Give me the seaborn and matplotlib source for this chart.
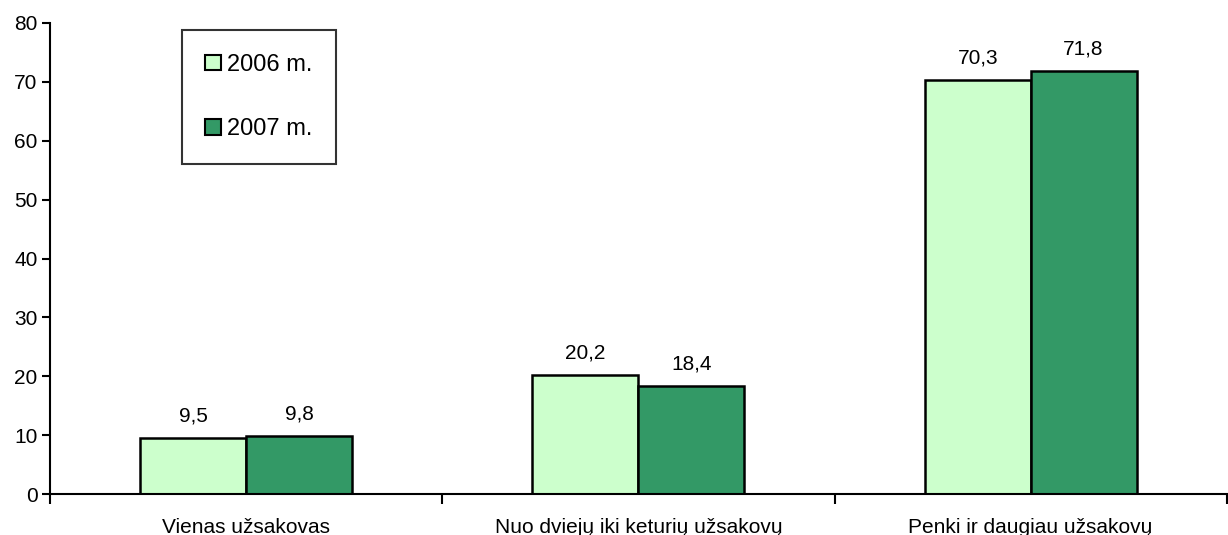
import pandas as pd
import matplotlib.pyplot as plt
import seaborn as sns
from matplotlib.ticker import FixedLocator, NullFormatter

# duomenys
categories = ["Vienas užsakovas", "Nuo dviejų iki keturių užsakovų", "Penki ir daugiau užsakovų"]
years = ["2006 m.", "2007 m."]
values_2006 = [9.5, 20.2, 70.3]
values_2007 = [9.8, 18.4, 71.8]

df = pd.DataFrame({
    "kategorija": categories * 2,
    "metai": [years[0]] * 3 + [years[1]] * 3,
    "reiksme": values_2006 + values_2007,
})

sns.set_theme(style="white")
plt.rcParams['font.family'] = ['Liberation Sans', 'DejaVu Sans']
plt.rcParams['text.color'] = 'black'
plt.rcParams['xtick.color'] = 'black'
plt.rcParams['ytick.color'] = 'black'

fig = plt.figure(figsize=(12.28, 5.35), dpi=100)
ax = fig.add_axes([50 / 1228, 1 - 494 / 535, 1 - 50 / 1228 - 0.001, (494 - 23) / 535])

sns.barplot(data=df, x="kategorija", y="reiksme", hue="metai",
            palette=["#CCFFCC", "#339966"], width=0.54, gap=0,
            edgecolor="black", linewidth=1.8, saturation=1, ax=ax)

for cont in ax.containers:
    ax.bar_label(cont, labels=[f"{v:.1f}".replace(".", ",") for v in cont.datavalues],
                 padding=9, fontsize=15, color="black")

ax.set_ylim(0, 80)
ax.set_yticks(range(0, 81, 10))
ax.set_xlim(-0.5, 2.5)
ax.set_xlabel("")
ax.set_ylabel("")

# žymos tarp kategorijų
ax.xaxis.set_minor_locator(FixedLocator([-0.5, 0.5, 1.5, 2.5]))
ax.xaxis.set_minor_formatter(NullFormatter())
ax.tick_params(axis="x", which="major", length=0, labelsize=15, pad=17)
ax.tick_params(axis="x", which="minor", length=7, width=1.5, color="black", direction="out", bottom=True)
ax.tick_params(axis="y", length=6, width=1.5, color="black", direction="out", left=True, labelsize=15, pad=3)

for s in ["top", "right"]:
    ax.spines[s].set_visible(False)
for s in ["left", "bottom"]:
    ax.spines[s].set_color("black")
    ax.spines[s].set_linewidth(1.5)

leg = ax.legend(loc="upper left", bbox_to_anchor=(0.112, 0.985), frameon=True, fancybox=False,
                edgecolor="black", fontsize=17, handlelength=0.65, handleheight=0.65,
                handletextpad=0.25, labelspacing=1.8, borderpad=1.0, borderaxespad=0)
leg.get_frame().set_linewidth(1.5)
for h in leg.legend_handles:
    h.set_edgecolor("black")
    h.set_linewidth(1.5)

fig.savefig("out.png", dpi=100)
